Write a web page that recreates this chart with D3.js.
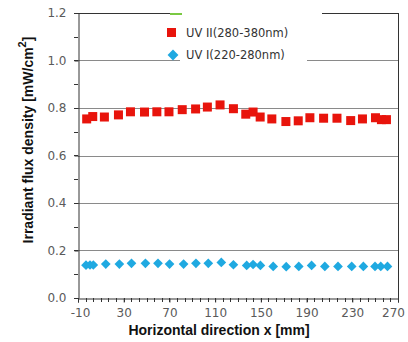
<!DOCTYPE html>
<html>
<head>
<meta charset="utf-8">
<script src="https://cdn.jsdelivr.net/npm/d3@7"></script>
<style>
  body { margin: 0; background: #fff; }
  svg { display: block; }
</style>
</head>
<body>
<svg id="chart" width="408" height="342"></svg>
<script>
// UV II (280-380nm) - red squares
const uv2X = [-2.4, 2.9, 13.1, 25.4, 35.9, 48.2, 59, 69.6, 81.2, 92.9, 103.2, 114.3, 126, 136.8, 143.2, 149.4, 159.6, 171.9, 182.7, 192.9, 204.9, 216.6, 228.6, 238.9, 250.3, 255.5, 259.9];
const uv2Y = [0.754, 0.764, 0.762, 0.771, 0.784, 0.783, 0.784, 0.784, 0.793, 0.796, 0.804, 0.813, 0.797, 0.774, 0.783, 0.762, 0.754, 0.743, 0.746, 0.759, 0.757, 0.757, 0.747, 0.754, 0.759, 0.751, 0.751];
// UV I (220-280nm) - blue diamonds
const uv1X = [-3, 0.5, 3.4, 14.3, 26.2, 36.8, 49, 60, 70.1, 82.4, 93.2, 104, 115.4, 126, 137.6, 143.2, 149.6, 160.8, 172.2, 183.2, 194.4, 206, 217.5, 229.5, 239.7, 249.9, 254.9, 260.8];
const uv1Y = [0.138, 0.139, 0.139, 0.143, 0.143, 0.146, 0.146, 0.146, 0.143, 0.143, 0.146, 0.146, 0.15, 0.14, 0.137, 0.141, 0.137, 0.133, 0.132, 0.133, 0.137, 0.133, 0.133, 0.133, 0.133, 0.133, 0.133, 0.133];

const xTicks = [-10, 30, 70, 110, 150, 190, 230, 270];
const yTicks = [0.0, 0.2, 0.4, 0.6, 0.8, 1.0, 1.2];
const legendNames = ["UV II(280-380nm)", "UV I(220-280nm)"];

const svg = d3.select("#chart");
const pLeft = 78, pRight = 398, pTop = 13, pBottom = 298;

const x = d3.scaleLinear().domain([-10, 270]).range([pLeft, pRight]);
const y = d3.scaleLinear().domain([0, 1.2]).range([pBottom, pTop]);

// gridlines
svg.append("g")
  .selectAll("line")
  .data(yTicks.slice(1, -1))
  .enter().append("line")
  .attr("x1", pLeft).attr("x2", pRight)
  .attr("y1", d => Math.round(y(d)) + 0.5).attr("y2", d => Math.round(y(d)) + 0.5)
  .attr("stroke", "#8a8a8a").attr("stroke-width", 1);

// frame: top + right
svg.append("line").attr("x1", pLeft).attr("x2", pRight).attr("y1", pTop + 0.5).attr("y2", pTop + 0.5)
  .attr("stroke", "#333").attr("stroke-width", 1);
svg.append("line").attr("x1", pRight + 0.5).attr("x2", pRight + 0.5).attr("y1", pTop).attr("y2", pBottom)
  .attr("stroke", "#333").attr("stroke-width", 1);

// minor ticks
const yMinor = d3.range(0, 1.21, 0.1);
svg.append("g").selectAll("line").data(yMinor).enter().append("line")
  .attr("x1", pLeft - 4).attr("x2", pLeft)
  .attr("y1", d => Math.round(y(d)) + 0.5).attr("y2", d => Math.round(y(d)) + 0.5)
  .attr("stroke", "#333");
const xMinor = d3.range(0, 43).map(i => -10 + i * 40 / 6);
svg.append("g").selectAll("line").data(xMinor).enter().append("line")
  .attr("x1", d => Math.round(x(d)) + 0.5).attr("x2", d => Math.round(x(d)) + 0.5)
  .attr("y1", pBottom).attr("y2", pBottom + 4)
  .attr("stroke", "#333");

// axes
const yAxis = svg.append("g")
  .attr("transform", `translate(${pLeft + 0.5},0)`)
  .call(d3.axisLeft(y).tickValues(yTicks).tickFormat(d => d.toFixed(1)).tickSize(4).tickPadding(8));
const xAxis = svg.append("g")
  .attr("transform", `translate(0,${pBottom + 0.5})`)
  .call(d3.axisBottom(x).tickValues(xTicks).tickFormat(d => String(d)).tickSize(4).tickPadding(6));
[yAxis, xAxis].forEach(a => {
  a.select(".domain").attr("stroke", "#333");
  a.selectAll(".tick line").attr("stroke", "#333");
  a.selectAll("text").attr("fill", "#5a5a5a")
    .style("font-family", "'DejaVu Sans', Verdana, sans-serif").style("font-size", "12px");
});
xAxis.selectAll(".tick text").filter(d => d === 270).attr("dx", -5);
xAxis.selectAll(".tick text").filter(d => d === -10).attr("dx", 2);

// legend (white box overlapping top)
svg.append("rect").attr("x", 180).attr("y", 5).attr("width", 127).attr("height", 62).attr("fill", "#fff");
svg.append("rect").attr("x", 300).attr("y", 5).attr("width", 22).attr("height", 14).attr("fill", "#fff");
svg.append("line").attr("x1", 170).attr("x2", 182).attr("y1", 14).attr("y2", 14)
  .attr("stroke", "#7ac943").attr("stroke-width", 2);

const leg = svg.append("g");
leg.append("rect").attr("x", 167).attr("y", 28).attr("width", 9).attr("height", 9).attr("fill", "#e8140c");
leg.append("path").attr("d", d3.symbol(d3.symbolDiamond2, 75)()).attr("transform", "translate(173,55)")
  .attr("fill", "#1fa9e1");
leg.selectAll("text").data(legendNames).enter().append("text")
  .attr("x", 186).attr("y", (d, i) => 37 + i * 22)
  .attr("fill", "#333")
  .style("font-family", "'DejaVu Sans', Verdana, sans-serif").style("font-size", "11.5px")
  .text(d => d);

// data: red squares
svg.append("g").selectAll("rect").data(uv2X).enter().append("rect")
  .attr("x", (d, i) => x(d) - 4.5).attr("y", (d, i) => y(uv2Y[i]) - 4.5)
  .attr("width", 9).attr("height", 9)
  .attr("fill", "#e8140c");

// data: blue diamonds
svg.append("g").selectAll("path").data(uv1X).enter().append("path")
  .attr("d", d3.symbol(d3.symbolDiamond2, 60)())
  .attr("transform", (d, i) => `translate(${x(d)},${y(uv1Y[i])})`)
  .attr("fill", "#1fa9e1");

// titles
svg.append("text")
  .attr("x", 219).attr("y", 335).attr("text-anchor", "middle")
  .style("font-family", "'Liberation Sans', Arial, sans-serif").style("font-size", "14px").style("font-weight", "bold")
  .attr("fill", "#111")
  .text("Horizontal direction x [mm]");

const yt = svg.append("text")
  .attr("transform", "translate(33,140) rotate(-90)").attr("text-anchor", "middle")
  .style("font-family", "'Liberation Sans', Arial, sans-serif").style("font-size", "14px").style("font-weight", "bold")
  .attr("fill", "#111");
yt.append("tspan").text("Irradiant flux density [mW/cm");
yt.append("tspan").attr("dy", -7).style("font-size", "11px").text("2");
yt.append("tspan").attr("dy", 7).text("]");
</script>
</body>
</html>
